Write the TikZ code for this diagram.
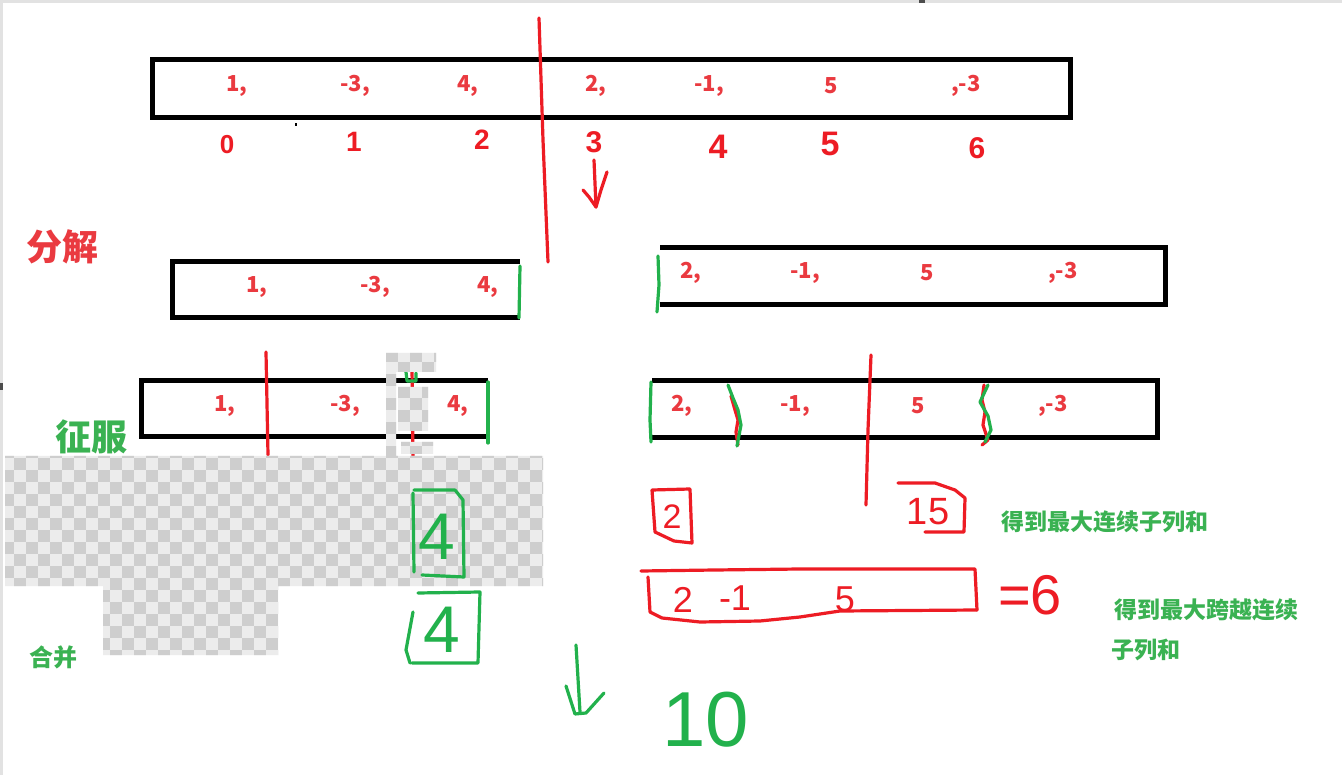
\documentclass[tikz,border=0pt]{standalone}
\usepackage{fontspec}
\setmainfont{Noto Sans CJK SC}
\newfontfamily\cjkfont{Noto Sans CJK SC}
\newfontfamily\handfont{Liberation Sans}
\definecolor{pred}{RGB}{237,28,36}
\definecolor{pgreen}{RGB}{34,177,76}
\definecolor{numred}{RGB}{234,58,64}
\definecolor{txtgreen}{RGB}{58,178,82}
\definecolor{chklight}{RGB}{236,236,236}
\definecolor{chkdark}{RGB}{206,206,206}
\definecolor{edgegray}{RGB}{226,226,226}
\tikzset{
  arrbox/.style={draw=black, line width=5pt},
  redline/.style={draw=pred, line width=3.2pt, line cap=round, line join=round},
  grnline/.style={draw=pgreen, line width=3.2pt, line cap=round, line join=round},
  numtxt/.style={text=numred, inner sep=0pt, font=\cjkfont\bfseries\fontsize{22}{24}\selectfont},
  hred/.style={text=pred, inner sep=0pt, font=\handfont\fontsize{#1}{#1}\selectfont},
  hredb/.style={text=pred, inner sep=0pt, font=\handfont\bfseries\fontsize{#1}{#1}\selectfont},
  hgrn/.style={text=pgreen, inner sep=0pt, font=\handfont\fontsize{#1}{#1}\selectfont},
  cjkred/.style={text=numred, inner sep=0pt, font=\cjkfont\bfseries\fontsize{#1}{#1}\selectfont},
  cjkgrn/.style={text=txtgreen, inner sep=0pt, font=\cjkfont\bfseries\fontsize{#1}{#1}\selectfont},
}
\begin{document}
\begin{tikzpicture}[x=1pt,y=-1pt]
\useasboundingbox (0,0) rectangle (1342,775);
\fill[white] (0,0) rectangle (1342,775);
% window edges and stray marks
\fill[edgegray] (0,0) rectangle (1342,3);
\fill[edgegray] (0,0) rectangle (3,775);
\fill[black!70] (919,0) rectangle (925,3);
\fill[black!70] (0,383) rectangle (3,390);
\fill[black] (295,123) rectangle (297,126);

% ===== top array =====
\draw[arrbox] (152,60) rectangle (1070,118);
\node[numtxt] (t0) at (237,86) {1,};
\node[numtxt] (t1) at (355,86) {-3,};
\node[numtxt] (t2) at (468,86) {4,};
\node[numtxt] (t3) at (596,86) {2,};
\node[numtxt] (t4) at (709,86) {-1,};
\node[numtxt] (t5) at (831,86) {5};
\node[numtxt] (t6) at (966,86) {,-3};
% indices
\node[hredb=26] (i0) at (227,145) {0};
\node[hredb=28] (i1) at (354,142) {1};
\node[hredb=28] (i2) at (482,140) {2};
\node[hredb=30] (i3) at (594,142) {3};
\node[hredb=34] (i4) at (718,147) {4};
\node[hredb=34] (i5) at (830,144) {5};
\node[hredb=30] (i6) at (977,148) {6};
% split line and arrow
\draw[redline] (539,18) -- (543,140) -- (548,262);
\draw[redline] (594,160) -- (596,207);
\draw[redline] (583,190) -- (589,197) -- (596,207) -- (601,190) -- (607,172);

% ===== labels =====
\node[cjkred=36] (fenjie) at (63,247) {分解};
\node[cjkgrn=36] (zhengfu) at (91,437) {征服};

% ===== row 2 =====
\draw[arrbox] (520,262) -- (172,262) -- (172,318) -- (520,318);
\draw[grnline] (520,266) -- (519,318);
\node[numtxt] (a0) at (257,287) {1,};
\node[numtxt] (a1) at (375,287) {-3,};
\node[numtxt] (a2) at (488,287) {4,};
\draw[arrbox] (660,248) -- (1165,248) -- (1165,305) -- (660,305);
\draw[grnline] (658,256) -- (659,285) -- (657,312);
\node[numtxt] (b0) at (691,273) {2,};
\node[numtxt] (b1) at (805,273) {-1,};
\node[numtxt] (b2) at (927,273) {5};
\node[numtxt] (b3) at (1063,273) {,-3};

% ===== row 3 left =====
\draw[arrbox] (488,381) -- (141,381) -- (141,437) -- (488,437);
\draw[grnline] (488,382) -- (488,443);
\node[numtxt] (c0) at (225,406) {1,};
\node[numtxt] (c1) at (345,406) {-3,};
\node[numtxt] (c2) at (458,406) {4,};
\draw[redline] (266,352) -- (268,455);
\draw[redline] (412,368) -- (413,456);
\draw[grnline] (406,372) -- (407,381) -- (416,381) -- (416,373);

% ===== row 3 right =====
\draw[arrbox] (652,381) -- (1157,381) -- (1157,438) -- (652,438);
\draw[grnline] (651,382) -- (650,420) -- (651,442);
\node[numtxt] (d0) at (682,406) {2,};
\node[numtxt] (d1) at (795,406) {-1,};
\node[numtxt] (d2) at (918,406) {5};
\node[numtxt] (d3) at (1053,406) {,-3};
\draw[redline] (871,355) -- (868,430) -- (866,505);
% wavy separators
\draw[redline] (731,396) -- (735,410) -- (738,420) -- (736,432) -- (738,445);
\draw[grnline] (728,385) -- (733,398) -- (738,410) -- (741,425) -- (737,446);
\draw[redline] (984,385) -- (982,400) -- (985,412) -- (983,425) -- (988,440) -- (982,445);
\draw[grnline] (988,385) -- (980,402) -- (988,416) -- (991,430) -- (985,442);

% results right side
\draw[redline] (652,490) -- (690,489) -- (692,543) -- (674,541) -- (655,532) -- (652,490);
\node[hred=34] (r2) at (672,517) {2};
\draw[redline] (898,483) -- (935,483) -- (955,490) -- (965,498) -- (964,532) -- (925,532);
\node[hred=38] (r15) at (928,512) {15};
\node[cjkgrn=23] (note1) at (1105,522) {得到最大连续子列和};

\draw[redline] (641,571) -- (715,570) -- (800,569) -- (975,569) -- (977,610);
\draw[redline] (648,577) -- (650,612) -- (662,618) -- (700,622) -- (760,621) -- (800,617) -- (840,611) -- (977,610);
\node[hred=36] (s0) at (683,600) {2};
\node[hred=36] (s1) at (735,598) {-1};
\node[hred=36] (s2) at (845,599) {5};
\node[hred=56] (eq6) at (1030,595) {=6};
\node[cjkgrn=23] (note2) at (1206,610) {得到最大跨越连续};
\node[cjkgrn=23] (note3) at (1146,650) {子列和};

% ===== checkerboard (transparent area) =====
\begin{scope}
\clip (5,456) rectangle (543,586) (103,585) rectangle (278,655)
      (386,353) rectangle (436,372) (386,353) rectangle (396,456)
      (398,387) rectangle (428,431) (401,442) rectangle (433,454);
\fill[chklight] (0,340) rectangle (560,670);
\foreach \i in {0,...,46}{\foreach \j in {29,...,55}{%
  \ifodd\numexpr\i+\j\relax
    \fill[chkdark] ({2+12*\i},{2+12*\j}) rectangle +(12,12);
  \fi}}
\end{scope}

% ===== merge results (left) =====
\draw[grnline] (414,490) -- (455,490) -- (463,500) -- (464,577) -- (422,575);
\draw[grnline] (413,493) -- (414,572);
\node[hgrn=66] (g4a) at (437,537) {4};
\draw[grnline] (418,593) -- (480,592) -- (478,663) -- (412,663);
\draw[grnline] (413,612) -- (406,650) -- (410,663);
\node[hgrn=66] (g4b) at (442,630) {4};
\node[cjkgrn=24] (hebing) at (54,657) {合并};

% final arrow and result
\draw[grnline] (576,645) -- (580,712);
\draw[grnline] (566,686) -- (575,714) -- (586,713) -- (604,693);
\node[hgrn=78] (ten) at (706,720) {10};
\end{tikzpicture}
\end{document}
